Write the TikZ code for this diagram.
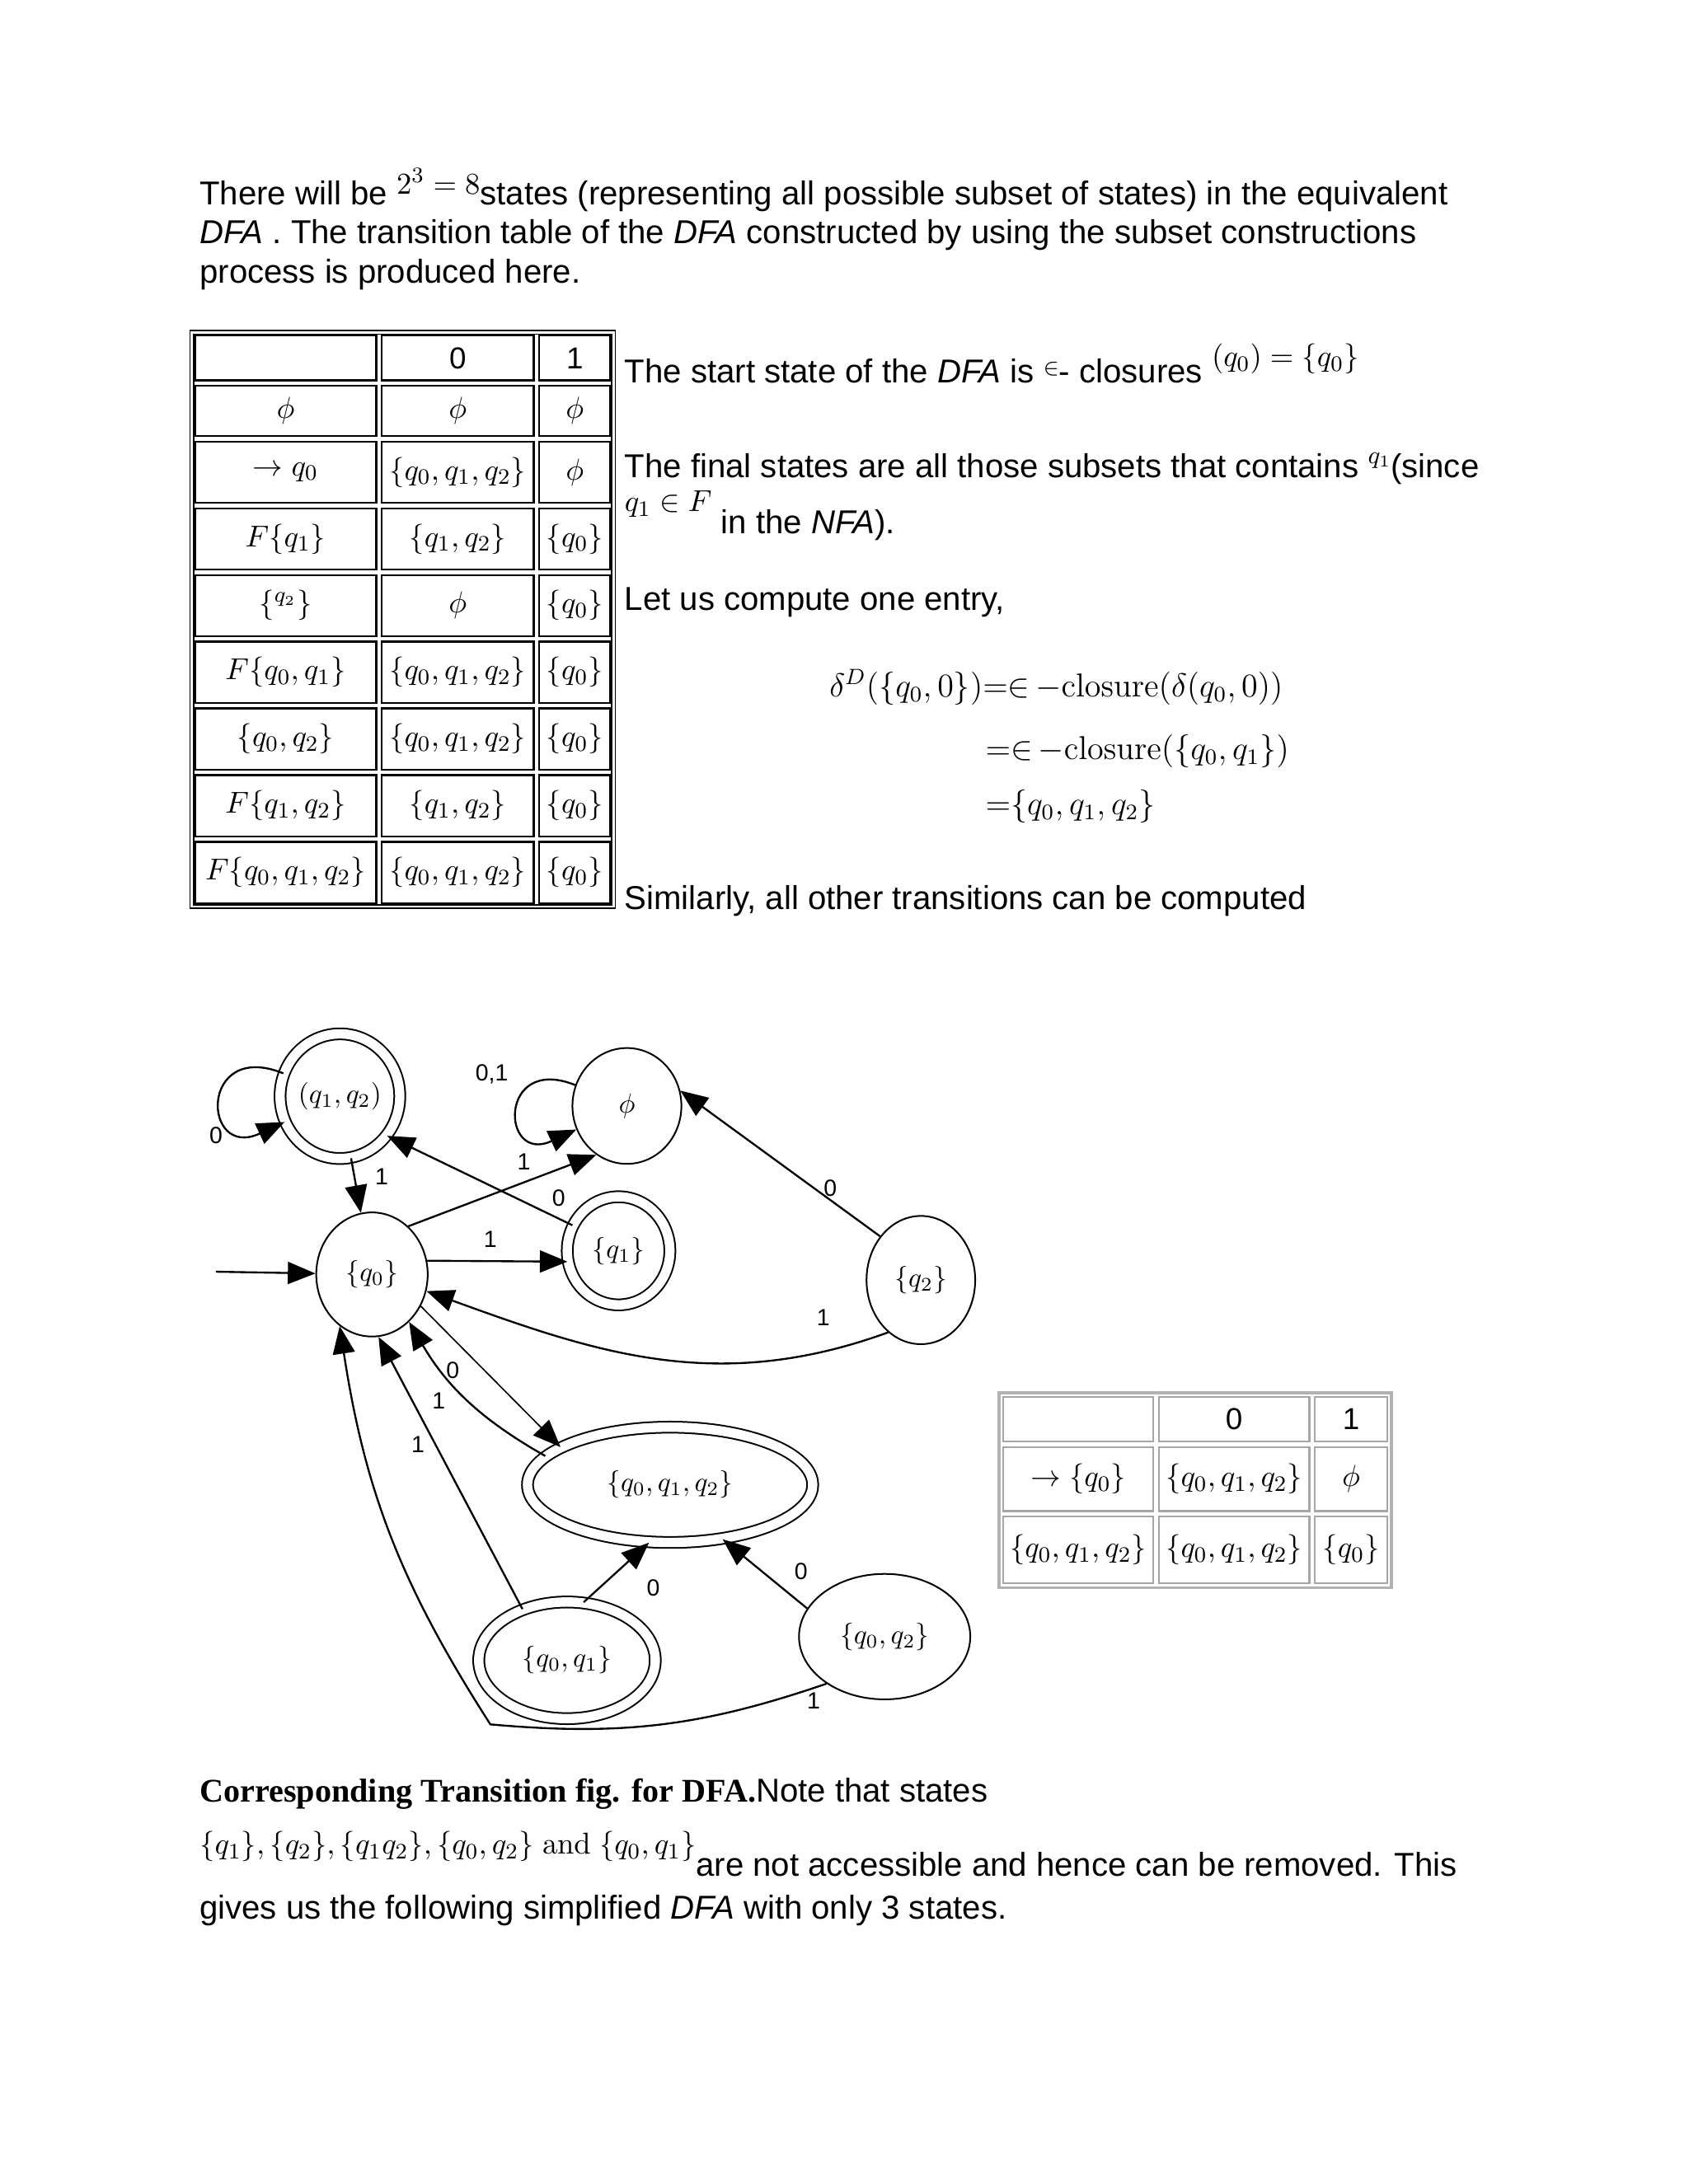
\documentclass[tikz,border=0pt]{standalone}
\usepackage[no-math]{fontspec}
\setmainfont{Liberation Sans}
\newfontfamily\capfont{Liberation Serif}
\usetikzlibrary{arrows.meta,positioning,shapes.geometric,fit}

\begin{document}
\begin{tikzpicture}[
  x=0.5051pt, y=-0.5051pt,
  body/.style={anchor=base west, inner sep=0pt, font=\fontsize{12}{14}\selectfont},
  inmath/.style={font=\fontsize{12}{14}\selectfont},
  cell/.style={draw, rectangle, line width=0.7pt, inner sep=0pt, outer sep=0pt, font=\fontsize{11}{13}\selectfont},
  greycell/.style={cell, draw=black!35},
  wa/.style={minimum width=65.7pt}, wb/.style={minimum width=55.1pt}, wc/.style={minimum width=25.8pt},
  ha/.style={minimum height=16.2pt}, hb/.style={minimum height=18.2pt}, hc/.style={minimum height=22.2pt},
  state/.style={draw, ellipse, line width=0.6pt, inner sep=0pt, font=\fontsize{10}{12}\selectfont},
  accept/.style={state, double, double distance=3.4pt},
  edge/.style={-{Triangle[length=10pt, width=8pt]}, line width=0.7pt},
  lbl/.style={inner sep=0pt, font=\fontsize{8.5}{10}\selectfont}
]
\useasboundingbox (0,0) rectangle (1212,1568);

% opening paragraph
\node[body] (intro1) at (143,147) {There will be \raisebox{4pt}{\fontsize{11}{13}\selectfont$2^3=8$}states (representing all possible subset of states) in the equivalent};
\node[body] (intro2) at (143,175) {\textit{DFA} . The transition table of the \textit{DFA} constructed by using the subset constructions};
\node[body] (intro3) at (143,203) {process is produced here.};

% transition table of all subsets
\node[cell, wa, ha] (h0) at (205,257) {};
\node[cell, wb, ha, right=2pt of h0] (h1) {0};
\node[cell, wc, ha, right=2pt of h1] (h2) {1};
\node[cell, wa, hb, below=2pt of h0] (e0) {$\phi$};
\node[cell, wb, hb, right=2pt of e0] (e1) {$\phi$};
\node[cell, wc, hb, right=2pt of e1] (e2) {$\phi$};
\node[cell, wa, hc, below=2pt of e0] (a0) {$\rightarrow q_0$};
\node[cell, wb, hc, right=2pt of a0] (a1) {$\{q_0,q_1,q_2\}$};
\node[cell, wc, hc, right=2pt of a1] (a2) {$\phi$};
\node[cell, wa, hc, below=2pt of a0] (b0) {$F\{q_1\}$};
\node[cell, wb, hc, right=2pt of b0] (b1) {$\{q_1,q_2\}$};
\node[cell, wc, hc, right=2pt of b1] (b2) {$\{q_0\}$};
\node[cell, wa, hc, below=2pt of b0] (c0) {$\{^{q_2}\}$};
\node[cell, wb, hc, right=2pt of c0] (c1) {$\phi$};
\node[cell, wc, hc, right=2pt of c1] (c2) {$\{q_0\}$};
\node[cell, wa, hc, below=2pt of c0] (d0) {$F\{q_0,q_1\}$};
\node[cell, wb, hc, right=2pt of d0] (d1) {$\{q_0,q_1,q_2\}$};
\node[cell, wc, hc, right=2pt of d1] (d2) {$\{q_0\}$};
\node[cell, wa, hc, below=2pt of d0] (f0) {$\{q_0,q_2\}$};
\node[cell, wb, hc, right=2pt of f0] (f1) {$\{q_0,q_1,q_2\}$};
\node[cell, wc, hc, right=2pt of f1] (f2) {$\{q_0\}$};
\node[cell, wa, hc, below=2pt of f0] (g0) {$F\{q_1,q_2\}$};
\node[cell, wb, hc, right=2pt of g0] (g1) {$\{q_1,q_2\}$};
\node[cell, wc, hc, right=2pt of g1] (g2) {$\{q_0\}$};
\node[cell, wa, hc, below=2pt of g0] (k0) {$F\{q_0,q_1,q_2\}$};
\node[cell, wb, hc, right=2pt of k0] (k1) {$\{q_0,q_1,q_2\}$};
\node[cell, wc, hc, right=2pt of k1] (k2) {$\{q_0\}$};
\node[draw, double, double distance=0.8pt, line width=0.5pt, inner sep=1.2pt, fit=(h0)(k2)] (fulltable) {};

% remarks beside the table
\node[body] (start) at (448,275) {The start state of the \textit{DFA} is \raisebox{3pt}{$\scriptstyle\in$}- closures \raisebox{6pt}{\fontsize{11}{13}\selectfont$(q_0)=\{q_0\}$}};
\node[body] (final1) at (448,343) {The final states are all those subsets that contains \raisebox{5pt}{\small$q_1$}(since};
\node[body] (final2) at (448,383) {\raisebox{8pt}{\fontsize{11}{13}\selectfont$q_1\in F$} in the \textit{NFA}).};
\node[body] (entry) at (448,438) {Let us compute one entry,};
\node[body, inmath] (eq1) at (595,500) {$\delta^{D}\big(\{q_0,0\}\big){=}{\in}\,{-}\mathrm{closure}\big(\delta(q_0,0)\big)$};
\node[body, inmath] (eq2) at (707,545) {${=}{\in}\,{-}\mathrm{closure}\big(\{q_0,q_1\}\big)$};
\node[body, inmath] (eq3) at (707,585) {${=}\{q_0,q_1,q_2\}$};
\node[body] (similar) at (448,653) {Similarly, all other transitions can be computed};

% transition diagram
\node[accept, minimum width=43.4pt, minimum height=45.2pt] (q12) at (244,787) {$(q_1,q_2)$};
\node[state, minimum width=39.5pt, minimum height=42pt] (empty) at (450,794) {$\phi$};
\node[accept, minimum width=37.2pt, minimum height=39.2pt] (q1) at (444,898) {$\{q_1\}$};
\node[state, minimum width=40.4pt, minimum height=45pt] (q0) at (267,915) {$\{q_0\}$};
\node[state, minimum width=39.4pt, minimum height=46.5pt] (q2) at (661,919) {$\{q_2\}$};
\node[accept, minimum width=103.4pt, minimum height=41.8pt] (q012) at (481,1066) {$\{q_0,q_1,q_2\}$};
\node[accept, minimum width=64pt, minimum height=42.3pt] (q01) at (407,1192) {$\{q_0,q_1\}$};
\node[state, minimum width=62.1pt, minimum height=45.5pt] (q02) at (635,1175) {$\{q_0,q_2\}$};
\coordinate (init) at (155,913);
\coordinate (lowbend) at (352,1238);

\draw[edge] (init) -- (q0);
\draw[edge] (q12) to[out=158, in=205, looseness=4.8] (q12);
\draw[edge] (empty) to[out=158, in=205, looseness=4.8] (empty);
\draw[edge] (q12) -- (q0);
\draw[edge] (q0.53) -- (empty.238);
\draw[edge] (q1.151) -- (q12.-40);
\draw[edge] (q0.14) -- (q1.192);
\draw[edge] (q2.133) -- (empty.16);
\draw[edge] (q2.238) to[out=200, in=-20] (q0.-17);
\draw[edge, line width=0.5pt] (q0.-33) -- (q012.161);
\draw[edge] (q012.167) to[bend left=15] (q0.-52);
\draw[edge] (q01.131) -- (q0.-84);
\draw[edge] (q01.74) -- (q012.250);
\draw[edge] (q02.160) -- (q012.-46);
\draw[edge] (q02.219) to[bend left=12] (lowbend) to[bend left=12] (q0.238);

\node[lbl] (l1) at (155,815) {0};
\node[lbl] (l2) at (274,845) {1};
\node[lbl] (l3) at (353,771) {0,1};
\node[lbl] (l4) at (376,834) {1};
\node[lbl] (l5) at (401,860) {0};
\node[lbl] (l6) at (352,890) {1};
\node[lbl] (l7) at (596,853) {0};
\node[lbl] (l8) at (591,946) {1};
\node[lbl] (l9) at (325,984) {0};
\node[lbl] (l10) at (315,1006) {1};
\node[lbl] (l11) at (300,1037) {1};
\node[lbl] (l12) at (469,1140) {0};
\node[lbl] (l13) at (575,1128) {0};
\node[lbl] (l14) at (584,1221) {1};

% reduced table
\node[greycell, ha, minimum width=54.5pt] (s0) at (774,1019) {};
\node[greycell, ha, minimum width=54.5pt, right=2pt of s0] (s1) {0};
\node[greycell, ha, minimum width=26.3pt, right=2pt of s1] (s2) {1};
\node[greycell, minimum width=54.5pt, minimum height=23.2pt, below=2pt of s0] (t0) {$\rightarrow\{q_0\}$};
\node[greycell, minimum width=54.5pt, minimum height=23.2pt, right=2pt of t0] (t1) {$\{q_0,q_1,q_2\}$};
\node[greycell, minimum width=26.3pt, minimum height=23.2pt, right=2pt of t1] (t2) {$\phi$};
\node[greycell, minimum width=54.5pt, minimum height=24.2pt, below=2pt of t0] (u0) {$\{q_0,q_1,q_2\}$};
\node[greycell, minimum width=54.5pt, minimum height=24.2pt, right=2pt of u0] (u1) {$\{q_0,q_1,q_2\}$};
\node[greycell, minimum width=26.3pt, minimum height=24.2pt, right=2pt of u1] (u2) {$\{q_0\}$};
\node[draw=black!30, line width=1pt, inner sep=1.5pt, fit=(s0)(u2)] (smalltable) {};

% closing paragraph
\node[body] (cap1) at (143,1294) {{\capfont\bfseries Corresponding Transition fig. for DFA.}Note that states};
\node[body] (cap2) at (143,1347) {\raisebox{8pt}{\fontsize{11}{13}\selectfont$\{q_1\},\{q_2\},\{q_1q_2\},\{q_0,q_2\}$ $\mathrm{and}$ $\{q_0,q_1\}$}are not accessible and hence can be removed. This};
\node[body] (cap3) at (143,1378) {gives us the following simplified \textit{DFA} with only 3 states.};
\end{tikzpicture}
\end{document}
